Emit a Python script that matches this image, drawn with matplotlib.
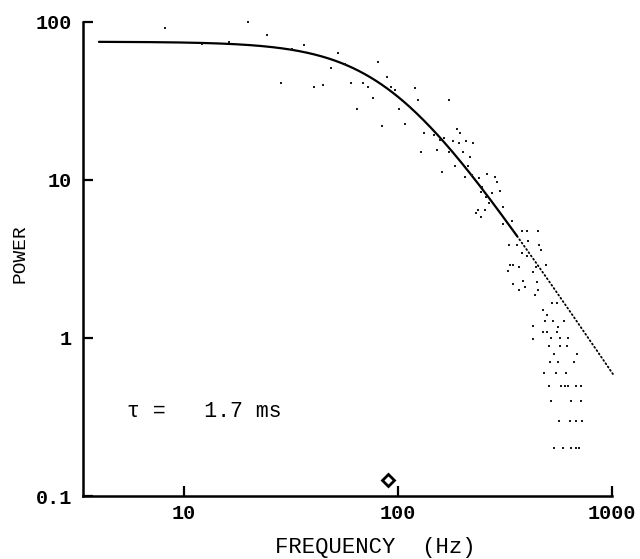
import numpy as np
import matplotlib
matplotlib.use("Agg")
import matplotlib.pyplot as plt
from matplotlib.ticker import FixedLocator, FixedFormatter, NullLocator

# ---- data ----
freq = [8.1, 20, 24.4, 28.4, 40.5, 36.4, 12.1, 16.2, 32,
        52.5, 56.5, 81, 48.6, 44.6, 60, 68.6, 72.4, 89, 93, 97, 76, 64, 84, 101, 108,
        114, 120, 124, 173, 132, 147, 157, 189, 195, 164, 181, 193, 208, 224, 128, 152,
        173, 201, 217, 185, 212, 161, 206, 222, 239, 261, 284, 290, 247, 244, 275, 300, 258,
        237, 231, 244, 255, 266, 310, 341, 310, 380, 401, 451, 330, 360, 405, 456, 466,
        380, 401, 334, 345, 367, 327, 492, 428, 441, 384, 345, 392, 446, 367, 451, 436,
        525, 553, 476, 497, 486, 530, 597, 428, 560, 476, 497, 553, 428, 519, 571, 623,
        508, 571, 616, 536, 686, 513, 560, 664, 481, 547, 610,
        508, 578, 603, 623, 679, 716,
        519, 643, 716,
        565, 637, 679, 724,
        536, 590, 643, 679, 701]
power = [92, 100, 83, 41, 39, 72, 73, 75, 67,
         64, 54, 56, 51, 40, 41, 41, 39, 45, 39, 37, 33, 28, 22, 28, 22.6,
         29, 38, 32, 32, 19.8, 19.3, 18, 21, 19.8, 18.5, 17.7, 17.1, 17.7, 17.1, 15, 15.5,
         15, 15, 14, 12.3, 12.3, 11.2, 10.5, 10.8, 10.3, 10.9, 10.5, 9.7, 9.0, 8.4, 8.3, 8.5, 7.8,
         6.5, 6.2, 5.8, 6.5, 7.1, 6.7, 5.5, 5.3, 4.75, 4.75, 4.75, 3.9, 3.9, 4.1, 3.9, 3.6,
         3.45, 3.3, 2.9, 2.9, 2.8, 2.65, 2.9, 2.6, 2.8, 2.3, 2.2, 2.1, 2.25, 2.0, 2.0, 1.87,
         1.67, 1.67, 1.5, 1.4, 1.28, 1.28, 1.28, 1.19, 1.17, 1.09, 1.09, 1.09, 0.99, 1.0, 1.0, 1.0,
         0.89, 0.89, 0.89, 0.79, 0.79, 0.7, 0.7, 0.7, 0.6, 0.6, 0.6,
         0.5, 0.5, 0.5, 0.5, 0.5, 0.5,
         0.4, 0.4, 0.4,
         0.3, 0.3, 0.3, 0.3,
         0.2, 0.2, 0.2, 0.2, 0.2]

P0 = 75.0           # low-frequency plateau
fc = 90.0           # corner frequency (Hz)
tau_label = "τ =   1.7 ms"
x_ticks = [10, 100, 1000]
x_ticklabels = ["10", "100", "1000"]
y_ticks = [0.1, 1, 10, 100]
y_ticklabels = ["0.1", "1", "10", "100"]
diamond_power = 0.126

# ---- figure ----
fig = plt.figure(figsize=(6.4, 5.59), dpi=100)
ax = fig.add_axes([0.1297, 0.1127, 0.8266, 0.848])
ax.set_xscale("log")
ax.set_yscale("log")
ax.set_xlim(3.37, 1000)
ax.set_ylim(0.1, 100)

# Lorentzian fit
f_solid = np.logspace(np.log10(4), np.log10(360), 300)
f_dot = np.logspace(np.log10(360), np.log10(1010), 300)
ax.plot(f_solid, P0 / (1 + (f_solid / fc) ** 2), color="black", lw=1.6, solid_capstyle="round")
ax.plot(f_dot, P0 / (1 + (f_dot / fc) ** 2), color="black", lw=1.3,
        linestyle=(0, (0.6, 1.6)), dash_capstyle="round", clip_on=False)

ax.scatter(freq, power, s=3.6, marker="s", color="#1a1a1a", linewidths=0, clip_on=False, zorder=3)

ax.plot([fc], [diamond_power], marker="D", markersize=6.5, mfc="white", mec="black",
        mew=2.0, clip_on=False, linestyle="none", zorder=4)

mono = "Liberation Mono"
ax.text(0.083, 0.179, tau_label, transform=ax.transAxes, fontsize=15.5, family=mono,
        va="center", ha="left")

for s in ["top", "right"]:
    ax.spines[s].set_visible(False)
for s in ["left", "bottom"]:
    ax.spines[s].set_linewidth(1.8)

ax.xaxis.set_major_locator(FixedLocator(x_ticks))
ax.xaxis.set_major_formatter(FixedFormatter(x_ticklabels))
ax.xaxis.set_minor_locator(NullLocator())
ax.yaxis.set_major_locator(FixedLocator(y_ticks))
ax.yaxis.set_major_formatter(FixedFormatter(y_ticklabels))
ax.yaxis.set_minor_locator(NullLocator())
ax.tick_params(direction="in", length=7, width=1.6, pad=6)
ax.tick_params(axis="y", pad=8)
for lab in ax.get_xticklabels() + ax.get_yticklabels():
    lab.set_family(mono)
    lab.set_fontsize(14.5)
    lab.set_fontweight("bold")

fig.text(0.586, 0.0197, "FREQUENCY  (Hz)", family=mono, fontsize=16, ha="center", va="center")
fig.text(0.031, 0.547, "POWER", family=mono, fontsize=14, rotation=90, ha="center", va="center")

fig.savefig("out.png", dpi=100)
